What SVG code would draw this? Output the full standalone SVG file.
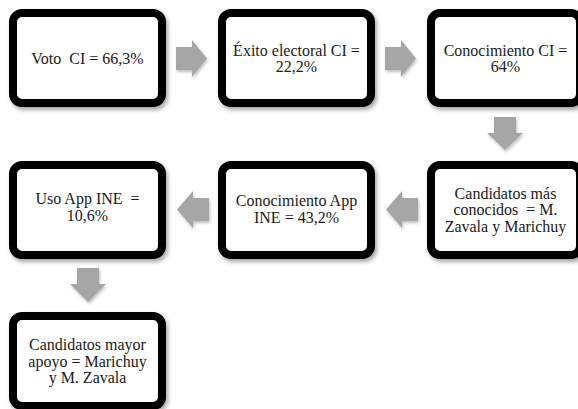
<svg xmlns="http://www.w3.org/2000/svg" width="578" height="409" viewBox="0 0 578 409">
<defs>
<filter id="sh" x="-10%" y="-10%" width="130%" height="130%">
<feDropShadow dx="2" dy="3" stdDeviation="2" flood-color="#000" flood-opacity="0.35"/>
</filter>
<filter id="sha" x="-30%" y="-30%" width="160%" height="160%">
<feDropShadow dx="1" dy="2" stdDeviation="1.5" flood-color="#000" flood-opacity="0.25"/>
</filter>
<style>
.box{fill:#fff;stroke:#000;stroke-width:8;filter:url(#sh)}
.t{font-family:"Liberation Serif","Times New Roman",serif;font-size:16px;fill:#1a1a1a;text-anchor:middle;white-space:pre}
.arr{fill:#a6a6a6;filter:url(#sha)}
</style>
</defs>
<rect width="578" height="409" fill="#fff"/>
<g id="connectors">
<polygon class="arr" points="176,47 192,47 192,40 207,58.5 192,77 192,70 176,70"/>
<polygon class="arr" points="385,47 401,47 401,40 416,58.5 401,77 401,70 385,70"/>
<polygon class="arr" points="494,117 516,117 516,133 523,133 505,150 487,133 494,133"/>
<polygon class="arr" points="418,198 402,198 402,191 386,209.5 402,228 402,221 418,221"/>
<polygon class="arr" points="209,198 193,198 193,191 177,209.5 193,228 193,221 209,221"/>
<polygon class="arr" points="77,268 99,268 99,284 106,284 88,302 70,284 77,284"/>
</g>
<g id="n1">
<rect class="box" x="13" y="13" width="149" height="90" rx="9"/>
<text class="t" x="87.5" y="63.5">Voto  CI = 66,3%</text>
</g>
<g id="n2">
<rect class="box" x="222" y="13" width="149" height="90" rx="9"/>
<text class="t" x="296.5" y="55.5">Éxito electoral CI =</text>
<text class="t" x="296.5" y="72">22,2%</text>
</g>
<g id="n3">
<rect class="box" x="431" y="13" width="149" height="90" rx="9"/>
<text class="t" x="505.5" y="55.5">Conocimiento CI =</text>
<text class="t" x="505.5" y="72">64%</text>
</g>
<g id="n4">
<rect class="box" x="431" y="165" width="149" height="90" rx="9"/>
<text class="t" x="505.5" y="198.5">Candidatos más</text>
<text class="t" x="505.5" y="215">conocidos  = M.</text>
<text class="t" x="505.5" y="231.5">Zavala y Marichuy</text>
</g>
<g id="n5">
<rect class="box" x="222" y="165" width="149" height="90" rx="9"/>
<text class="t" x="296.5" y="206">Conocimiento App</text>
<text class="t" x="296.5" y="222.5">INE = 43,2%</text>
</g>
<g id="n6">
<rect class="box" x="13" y="165" width="149" height="90" rx="9"/>
<text class="t" x="87.5" y="204">Uso App INE  =</text>
<text class="t" x="87.5" y="220.5">10,6%</text>
</g>
<g id="n7">
<rect class="box" x="13" y="316" width="149" height="90" rx="9"/>
<text class="t" x="87.5" y="350">Candidatos mayor</text>
<text class="t" x="87.5" y="366.5">apoyo = Marichuy</text>
<text class="t" x="87.5" y="383">y M. Zavala</text>
</g>
</svg>
